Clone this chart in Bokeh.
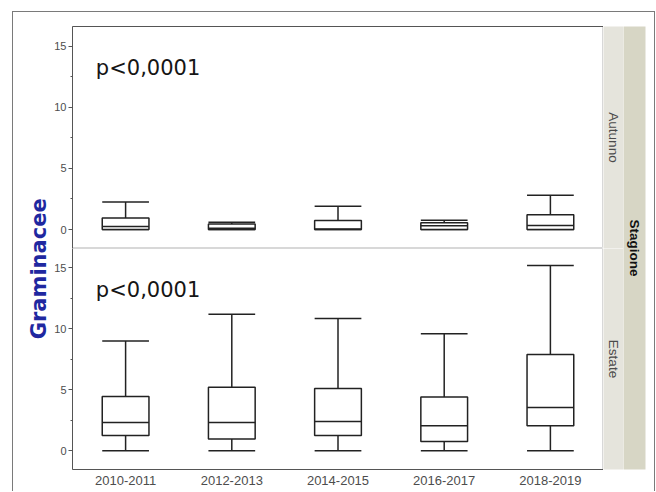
import math
from bokeh.plotting import figure
from bokeh.models import FactorRange, Range1d, FixedTicker, Label, GridBox, ColumnDataSource
from bokeh.embed import file_html
from bokeh.resources import INLINE

# ---- data ----
years = ["2010-2011", "2012-2013", "2014-2015", "2016-2017", "2018-2019"]

# Autunno
aut_low = [0.0, 0.0, 0.0, 0.0, 0.0]
aut_q1 = [0.0, 0.0, 0.0, 0.0, 0.0]
aut_med = [0.25, 0.1, 0.05, 0.3, 0.33]
aut_q3 = [0.95, 0.45, 0.74, 0.55, 1.2]
aut_high = [2.25, 0.6, 1.9, 0.75, 2.8]

# Estate
est_low = [0.0, 0.0, 0.0, 0.0, 0.0]
est_q1 = [1.25, 0.95, 1.25, 0.75, 2.05]
est_med = [2.3, 2.3, 2.4, 2.05, 3.55]
est_q3 = [4.45, 5.2, 5.1, 4.4, 7.9]
est_high = [9.0, 11.2, 10.85, 9.6, 15.2]

y_ticks = [0, 5, 10, 15]
y_minor = [2.5, 7.5, 12.5]
p_text = "p<0,0001"
y_title = "Graminacee"
facet_title = "Stagione"
facet_names = ["Autunno", "Estate"]

# ---- style ----
AX = "#555555"
LINE = "#222222"
HALF = 0.22
FONT = "Liberation Sans"
STRIP_IN = "#e5e4dc"
STRIP_OUT = "#d7d6c5"

ROW0 = 236
ROW1 = 243
TOP_B = 14
BOT_B = 22
YLAB_W = 38
PANEL_W = 552
LEFT_B = 19


def panel(low, q1, med, q3, high, height, tb, bb, bottom):
    p = figure(width=PANEL_W, height=height, x_range=FactorRange(*years),
               y_range=Range1d(-1.55, 16.6), output_backend="svg",
               toolbar_location=None, min_border_left=LEFT_B, min_border_right=0,
               min_border_top=tb, min_border_bottom=bb,
               x_axis_location="below" if bottom else "above",
               background_fill_color="white", border_fill_color="white",
               outline_line_color="#d8d8d8")
    p.xgrid.visible = False
    p.ygrid.visible = False
    yax = p.yaxis[0]
    yax.ticker = FixedTicker(ticks=y_ticks, minor_ticks=y_minor)
    yax.axis_line_color = AX
    yax.major_tick_line_color = AX
    yax.minor_tick_line_color = AX
    yax.major_tick_out = 4
    yax.major_tick_in = 0
    yax.minor_tick_out = 2
    yax.minor_tick_in = 0
    yax.major_label_standoff = 2
    yax.major_label_text_font = FONT
    yax.major_label_text_font_size = "11px"
    yax.major_label_text_color = "#4d4d4d"
    xax = p.xaxis[0]
    xax.axis_line_color = AX
    xax.major_tick_line_color = None
    xax.minor_tick_line_color = None
    xax.major_tick_out = 0
    xax.major_tick_in = 0
    xax.major_label_text_font = FONT
    if bottom:
        xax.major_label_standoff = 6
        xax.major_label_text_font_size = "13px"
        xax.major_label_text_color = "#4d4d4d"
    else:
        xax.major_label_standoff = 0
        xax.major_label_text_font_size = "10px"
        xax.major_label_text_color = None

    src = ColumnDataSource(dict(
        x=years,
        left=[(c, -HALF) for c in years],
        right=[(c, HALF) for c in years],
        low=low, q1=q1, med=med, q3=q3, high=high))
    kw = dict(line_color=LINE, line_width=1.5, source=src)
    p.segment(x0="x", y0="q3", x1="x", y1="high", **kw)
    p.segment(x0="x", y0="low", x1="x", y1="q1", **kw)
    p.segment(x0="left", y0="high", x1="right", y1="high", **kw)
    p.segment(x0="left", y0="low", x1="right", y1="low", **kw)
    p.vbar(x="x", width=2 * HALF, bottom="q1", top="q3", fill_color="white", **kw)
    p.segment(x0="left", y0="med", x1="right", y1="med", **kw)
    p.add_layout(Label(x=0.22, y=13.2, text=p_text, text_font="DejaVu Sans",
                       text_font_size="21px", text_color="#151515",
                       text_baseline="alphabetic", text_align="left"))
    return p


def strip(w, h, color, text, bold, tb, bb, rb=0):
    s = figure(width=w, height=h, x_range=Range1d(0, 1), y_range=Range1d(0, 1),
               x_axis_type=None, y_axis_type=None, output_backend="svg",
               toolbar_location=None, min_border_left=0, min_border_right=rb,
               min_border_top=tb, min_border_bottom=bb,
               background_fill_color=color, border_fill_color="white",
               outline_line_color=None)
    s.add_layout(Label(x=0.5, y=0.5, text=text, angle=-math.pi / 2,
                       text_align="center", text_baseline="middle",
                       text_font=FONT, text_font_size="13.5px",
                       text_font_style="bold" if bold else "normal",
                       text_color="#111111" if bold else "#4a4a4a"))
    return s


top = panel(aut_low, aut_q1, aut_med, aut_q3, aut_high, ROW0, TOP_B, 0, False)
bot = panel(est_low, est_q1, est_med, est_q3, est_high, ROW1, 0, BOT_B, True)

s_aut = strip(20, ROW0, STRIP_IN, facet_names[0], False, TOP_B, 0)
s_est = strip(20, ROW1, STRIP_IN, facet_names[1], False, 0, BOT_B)
s_out = strip(31, ROW0 + ROW1, STRIP_OUT, facet_title, True, TOP_B, BOT_B, rb=9)

H = ROW0 + ROW1
ylab = figure(width=YLAB_W, height=H, x_range=Range1d(0, YLAB_W), y_range=Range1d(0, H),
              x_axis_type=None, y_axis_type=None, output_backend="svg",
              toolbar_location=None, min_border_left=0, min_border_right=0,
              min_border_top=0, min_border_bottom=0, outline_line_color=None,
              border_fill_color="white", background_fill_color="white")
ylab.add_layout(Label(x=25, y=H - 262, text=y_title, angle=math.pi / 2,
                      text_align="center", text_baseline="middle",
                      text_font="DejaVu Sans", text_font_size="21px",
                      text_font_style="bold", text_color="#1f28a0"))

grid = GridBox(children=[(ylab, 0, 0, 2, 1), (top, 0, 1), (bot, 1, 1),
                         (s_aut, 0, 2), (s_est, 1, 2), (s_out, 0, 3, 2, 1)],
               spacing=0, margin=(11, 0, 0, 12),
               styles={"border-top": "1px solid #7a7a7a",
                       "border-left": "1px solid #7a7a7a",
                       "border-right": "1px solid #7a7a7a"})

open("out.html", "w").write(file_html(grid, INLINE))
